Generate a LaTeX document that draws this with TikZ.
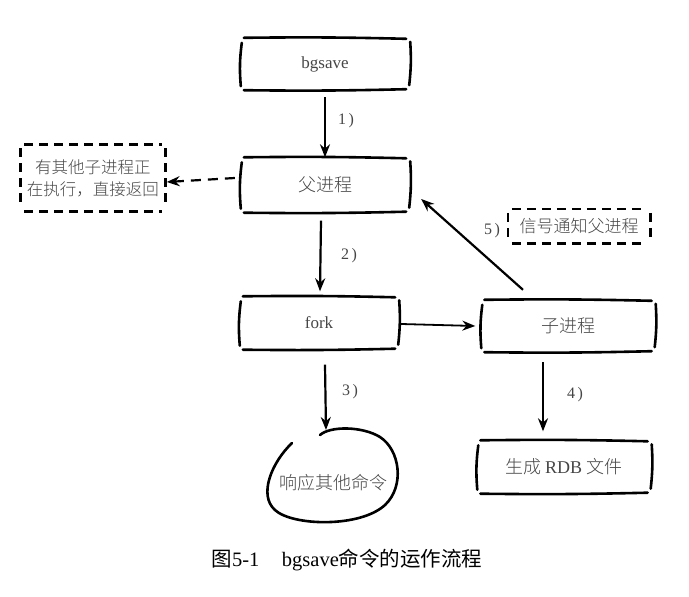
\documentclass[tikz,border=0pt]{standalone}
\usepackage{fontspec}
\setmainfont{Liberation Serif}
\newfontfamily\cjk{Noto Sans CJK SC}
\newfontfamily\cjkl{Noto Sans CJK SC Light}
\usetikzlibrary{arrows.meta,calc}
\definecolor{txtgray}{RGB}{70,70,70}
\tikzset{
  sk/.style={line width=2.6pt, line cap=round, black},
  skd/.style={line width=2.6pt, dash pattern=on 9pt off 6pt, black},
  boxn/.style={inner sep=0pt, text=txtgray, font=\fontsize{17}{20}\selectfont},
  arr/.style={line width=2.2pt, -{Stealth[length=13pt,width=10pt]}},
  lbl/.style={text=txtgray, font=\fontsize{16}{19}\selectfont},
}
\newcommand\skbox[1]{%
  \draw[sk] ($(#1.north west)+(3,0)$) to[bend left=1] ($(#1.north east)+(-3,1)$);
  \draw[sk] ($(#1.south west)+(3,0)$) to[bend right=1] ($(#1.south east)+(-3,-1)$);
  \draw[sk] ($(#1.north west)+(1,5)$) to[bend right=6] ($(#1.south west)+(0,-4)$);
  \draw[sk] ($(#1.north east)+(1,4)$) to[bend left=5] ($(#1.south east)+(0,-5)$);
}
\newcommand\skdbox[1]{%
  \draw[skd] ($(#1.north west)+(4,0)$) -- ($(#1.north east)+(-4,0)$);
  \draw[skd] ($(#1.south west)+(4,0)$) -- ($(#1.south east)+(-4,0)$);
  \draw[skd] ($(#1.north west)+(0,4)$) -- ($(#1.south west)+(0,-4)$);
  \draw[skd] ($(#1.north east)+(0,4)$) -- ($(#1.south east)+(0,-4)$);
}
\begin{document}
\begin{tikzpicture}[x=1pt,y=-1pt]
\useasboundingbox (0,0) rectangle (689,597);
% nodes
\node[boxn, minimum width=168pt, minimum height=52pt] (bgsave) at (325,64) {bgsave};
\node[boxn, minimum width=168pt, minimum height=55pt, font=\fontsize{18}{20}\selectfont] (parent) at (325,185) {\cjkl 父进程};
\node[boxn, minimum width=158pt, minimum height=53pt] (fork) at (319,323) {fork};
\node[boxn, minimum width=173pt, minimum height=52pt, font=\fontsize{18}{20}\selectfont] (child) at (568,326) {\cjkl 子进程};
\node[boxn, minimum width=173pt, minimum height=53pt, font=\fontsize{18}{20}\selectfont] (rdb) at (564,467) {\cjkl 生成 \rmfamily RDB \cjkl 文件};
\node[boxn, minimum width=145pt, minimum height=67pt, align=center, font=\fontsize{16.5}{22}\selectfont] (busy) at (93,178) {\cjkl 有其他子进程正\\\cjkl 在执行，直接返回};
\node[boxn, minimum width=142pt, minimum height=34pt, font=\fontsize{17}{20}\selectfont] (notify) at (579,226) {\cjkl 信号通知父进程};
\node[boxn, minimum width=130pt, minimum height=90pt, font=\fontsize{18}{20}\selectfont] (resp) at (333,483) {\cjkl 响应其他命令};
% box outlines
\skbox{bgsave}
\skbox{parent}
\skbox{fork}
\skbox{child}
\skbox{rdb}
\skdbox{busy}
\skdbox{notify}
\draw[sk] (292,443) .. controls (272,462) and (258,495) .. (275,510)
  .. controls (292,526) and (360,528) .. (385,505)
  .. controls (405,486) and (400,450) .. (380,437)
  .. controls (362,426) and (330,426) .. (320,435);
% connectors
\draw[arr] (bgsave.south) ++(0,7) coordinate (a1s) (a1s) -- (parent.north);
\node[lbl] (l1) at (346,121) {1\,)};
\draw[arr, dash pattern=on 10pt off 7pt] ($(parent.west)+(-6,-7)$) coordinate (dsa) (dsa) -- ($(busy.east)+(1,4)$);
\draw[arr] ($(parent.south)+(-4,8)$) coordinate (a2s) (a2s) -- ($(fork.north)+(1,-5)$);
\node[lbl] (l2) at (349,256) {2\,)};
\draw[arr, line width=1.8pt] ($(fork.east)+(3,1)$) coordinate (a3s) (a3s) -- ($(child.west)+(-6,0)$);
\draw[arr] ($(child.north)+(-45,-10)$) coordinate (a5s) (a5s) -- ($(parent.east)+(12,14)$);
\node[lbl] (l5) at (492,231) {5\,)};
\draw[arr] ($(fork.south)+(6,15)$) coordinate (a3d) (a3d) -- (326,430);
\node[lbl] (l3) at (350,392) {3\,)};
\draw[arr] ($(child.south)+(-25,10)$) coordinate (a4s) (a4s) -- ($(rdb.north)+(-21,-9)$);
\node[lbl] (l4) at (575,395) {4\,)};
% caption
\node[font=\fontsize{20.5}{24}\selectfont] (cap) at (347,560) {{\cjk 图}5-1\hspace{1.1em}bgsave{\cjk 命令的运作流程}};
\end{tikzpicture}
\end{document}
